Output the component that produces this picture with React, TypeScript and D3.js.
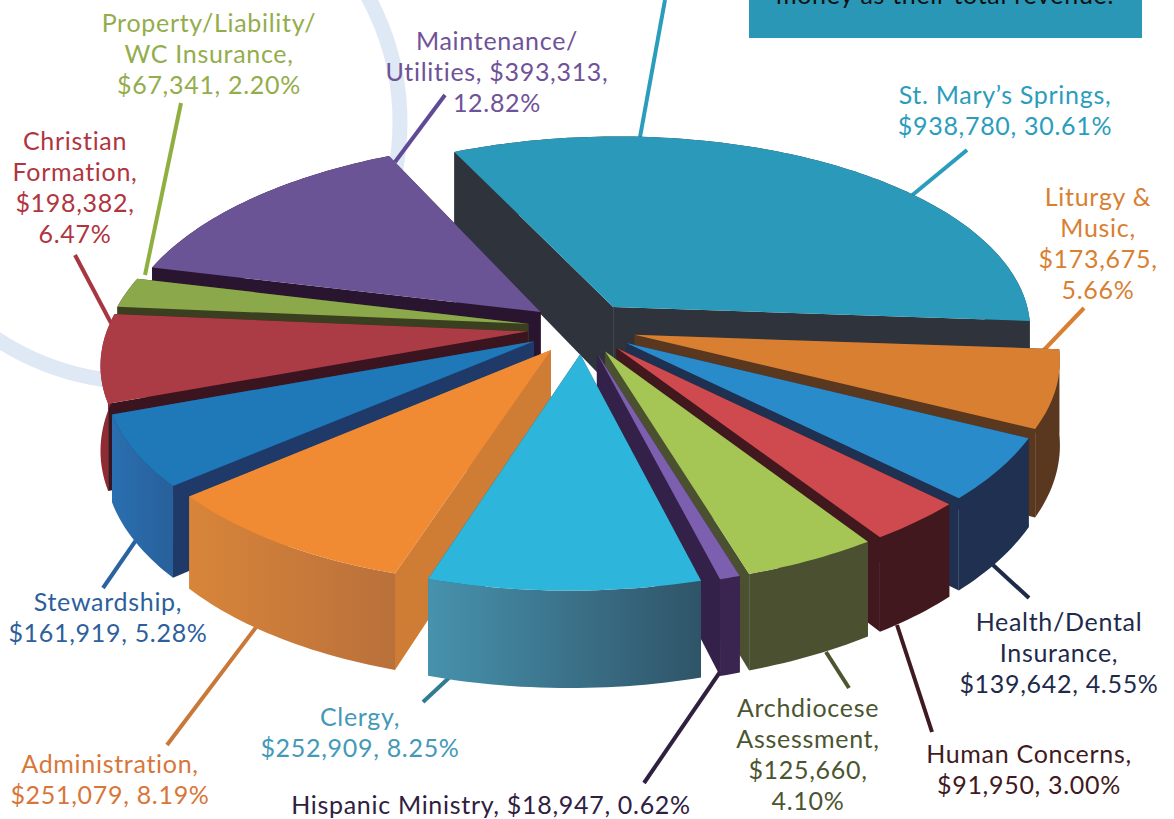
import React from "react";
import * as d3 from "d3";

const names = ["St. Mary's Springs","Maintenance/Utilities","Property/Liability/WC Insurance","Christian Formation","Stewardship","Administration","Clergy","Hispanic Ministry","Archdiocese Assessment","Human Concerns","Health/Dental Insurance","Liturgy & Music"];
const values = [938780,393313,67341,198382,161919,251079,252909,18947,125660,91950,139642,173675];
// clockwise order on the pie, starting from St. Mary's
const clockwise = [0,11,10,9,8,7,6,5,4,3,2,1];
const topColors = ["#2b9aba","#6b5496","#8ba84b","#ab3b44","#1f78b8","#f08a33","#2eb5db","#7d5fb0","#a5c554","#cf4a4f","#2a8bcb","#d97f32"];
const wallLight = ["#2e333c","#2a1530","#3a3f20","#8e2b33","#2a6fb0","#d8853a","#4792ad","#3a2450","#4a5030","#42181f","#1f3050","#5a3820"];
const wallDark = ["#2e333c","#2a1530","#3a3f20","#8e2b33","#28609a","#b9703a","#2f5468","#3a2450","#4a5030","#42181f","#1f3050","#5a3820"];
const innerWall = ["#2e333c","#2a1530","#3a3f20","#3a1520","#1f3a68","#cf7d35","#2f5468","#33214a","#4a5030","#42181f","#1f3050","#5a3820"];

const labelLines = [
  ["St. Mary\u2019s Springs,","$938,780, 30.61%"],
  ["Maintenance/","Utilities, $393,313,","12.82%"],
  ["Property/Liability/","WC Insurance,","$67,341, 2.20%"],
  ["Christian","Formation,","$198,382,","6.47%"],
  ["Stewardship,","$161,919, 5.28%"],
  ["Administration,","$251,079, 8.19%"],
  ["Clergy,","$252,909, 8.25%"],
  ["Hispanic Ministry, $18,947, 0.62%"],
  ["Archdiocese","Assessment,","$125,660,","4.10%"],
  ["Human Concerns,","$91,950, 3.00%"],
  ["Health/Dental","Insurance,","$139,642, 4.55%"],
  ["Liturgy &","Music,","$173,675,","5.66%"],
];
const labelColors = ["#2a9dbd","#6f5298","#93ad4c","#b0353f","#2d5f9c","#d8763a","#4499b8","#2f2040","#4b5530","#3f1a22","#1e2a4a","#d97f32"];
const labelX = [1005,497,209,75,108,110,360,491,808,1029,1059,1098];
const labelY = [104,50,32,150,611,773,726,814,717,763,631,206];
const leaders = [
  [[967,150],[910,197]],[[445,95],[395,162]],[[181,103],[145,275]],[[75,255],[111,323]],
  [[103,588],[141,533]],[[167,745],[260,622]],[[423,702],[452,675]],[[644,783],[720,672]],
  [[849,688],[826,652]],[[932,732],[897,625]],[[1029,598],[993,565]],[[1084,308],[1042,352]],
];
const leaderColors = ["#2a9dbd","#5f4a98","#8fb040","#a83640","#2a64a0","#c87838","#2f7c94","#2f2040","#4b5530","#3f1a22","#1e2a4a","#d97f32"];

const CX = 582, CY = 328, RX = 420, RY = 198, PERSP = 0.131, DEPTH = 83, EXPLODE = 0.13, SHEAR = -9;
const START = (-26 * Math.PI) / 180;

function project(a: number, b: number, z = 0): [number, number] {
  const w = 1 / (1 - PERSP * b);
  return [CX + RX * a * w + SHEAR * b * w, CY + RY * b * w + z * DEPTH * w];
}

const arcs = d3.pie<number>().sort(null).value((i) => values[i]).startAngle(START).endAngle(START + 2 * Math.PI)(clockwise);
const line = d3.line().curve(d3.curveLinear);

const slices = arcs.map((arc) => {
  const idx = arc.data;
  const mid = (arc.startAngle + arc.endAngle) / 2;
  const ox = EXPLODE * Math.sin(mid), oy = -EXPLODE * Math.cos(mid);
  const n = Math.max(3, Math.ceil((arc.endAngle - arc.startAngle) / 0.02));
  const thetas = d3.range(n + 1).map((k) => arc.startAngle + ((arc.endAngle - arc.startAngle) * k) / n);
  const rim = (z: number) => thetas.map((t) => project(ox + Math.sin(t), oy - Math.cos(t), z));
  const tip = (z: number) => project(ox, oy, z);
  const top = rim(0), low = rim(1);
  return {
    idx, depth: oy,
    top: line([tip(0), ...top])! + "Z",
    outer: line([...top, ...[...low].reverse()])! + "Z",
    wallA: line([tip(0), top[0], low[0], tip(1)])! + "Z",
    wallB: line([tip(0), top[n], low[n], tip(1)])! + "Z",
  };
}).sort((p, q) => d3.ascending(p.depth, q.depth));

const font = "Lato, 'Open Sans', sans-serif";

export default function App() {
  return (
    <svg width={1174} height={819} style={{ position: "fixed", left: 0, top: 0, background: "#fff" }} fontFamily={font}>
      <defs>
        {slices.map((s) => (
          <linearGradient key={s.idx} id={`wall${s.idx}`} x1="0" x2="1" y1="0" y2="0">
            <stop offset="0" stopColor={wallLight[s.idx]} />
            <stop offset="1" stopColor={wallDark[s.idx]} />
          </linearGradient>
        ))}
      </defs>
      <circle cx={140} cy={122} r={260} fill="none" stroke="#dfe9f6" strokeWidth={15} />
      <rect x={749} y={0} width={393} height={38} fill="#2a97b7" />
      <text x={945} y={4} textAnchor="middle" fontSize={25} letterSpacing={0.7} fill="#111">money as their total revenue.</text>
      <line x1={665} y1={0} x2={640} y2={137} stroke="#2a9dbd" strokeWidth={4} />
      {leaders.map((l, i) => (
        <line key={i} x1={l[0][0]} y1={l[0][1]} x2={l[1][0]} y2={l[1][1]} stroke={leaderColors[i]} strokeWidth={4} />
      ))}
      {slices.map((s) => (
        <g key={s.idx}>
          <path d={s.wallA} fill={innerWall[s.idx]} />
          <path d={s.wallB} fill={innerWall[s.idx]} />
          <path d={s.outer} fill={`url(#wall${s.idx})`} />
          <path d={s.top} fill={topColors[s.idx]} />
        </g>
      ))}
      {labelLines.map((lines, i) => (
        <text key={names[i]} x={labelX[i]} y={labelY[i]} textAnchor="middle" fontSize={25} letterSpacing={0.7} fill={labelColors[i]}>
          {lines.map((t, k) => (
            <tspan key={k} x={labelX[i]} dy={k === 0 ? 0 : 31}>{t}</tspan>
          ))}
        </text>
      ))}
    </svg>
  );
}
